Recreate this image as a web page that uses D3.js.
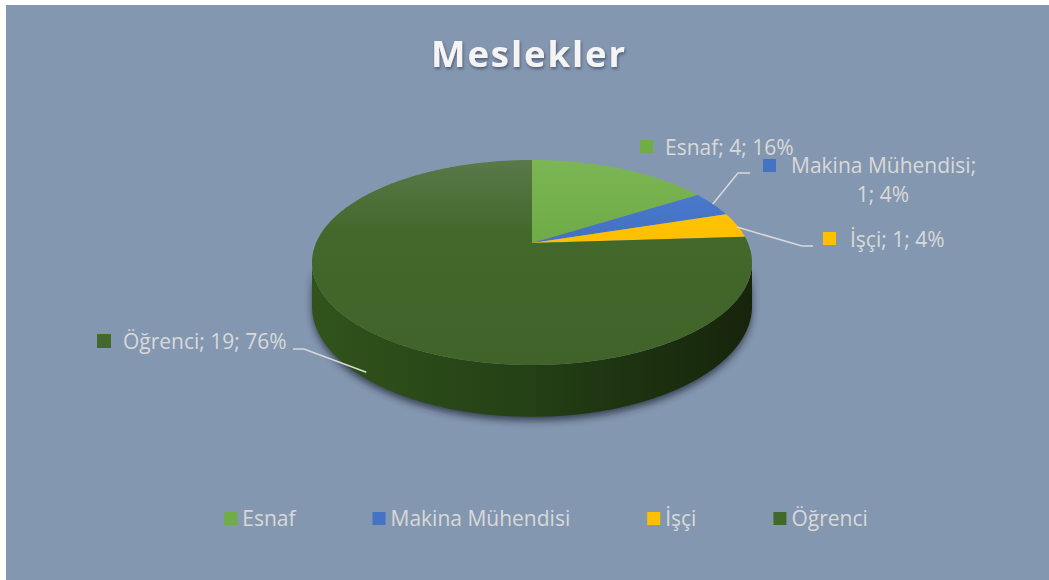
<!DOCTYPE html>
<html><head><meta charset="utf-8">
<script src="https://cdn.jsdelivr.net/npm/d3@7"></script>
<style>
html,body{margin:0;padding:0;background:#fff;}
svg{display:block;}
text{font-family:"Open Sans",sans-serif;}
</style></head>
<body>
<svg id="chart" width="1049" height="580"></svg>
<script>
const title = "Meslekler";
const categories = ["Esnaf", "Makina Mühendisi", "İşçi", "Öğrenci"];
const values = [4, 1, 1, 19];
const colors = ["#70ad47", "#4472c4", "#ffc000", "#43682b"];
const topColors = ["#7cb655", "#4f7fd0", "#ffca2a", "#5a7a4a"];

const W = 1049, H = 580;
const svg = d3.select("#chart");
const defs = svg.append("defs");

svg.append("rect").attr("x", 6).attr("y", 5).attr("width", W - 6).attr("height", H - 5).attr("fill", "#8497b0");

// title
const tf = defs.append("filter").attr("id", "tshadow").attr("x", "-20%").attr("y", "-40%").attr("width", "140%").attr("height", "180%");
tf.append("feDropShadow").attr("dx", 1).attr("dy", 2).attr("stdDeviation", 1.6).attr("flood-color", "#2a3344").attr("flood-opacity", 0.55);
svg.append("text").attr("x", 529).attr("y", 67).attr("text-anchor", "middle")
  .attr("font-size", 36.5).attr("font-weight", 700).attr("letter-spacing", 1.9)
  .attr("fill", "#f4f4f4").attr("filter", "url(#tshadow)").text(title);

// pie geometry (perspective projection of a disk)
const cx = 532, cy = 243, k = 216, m = 98.8, p = 0.19, T = 42;
const total = d3.sum(values);
const pie = d3.pie().sort(null).value(d => d).startAngle(0).endAngle(2 * Math.PI);
const arcs = pie(values);
const proj = (theta, r = 1, depth = 0) => {
  const X = r * Math.sin(theta), Z = -r * Math.cos(theta);
  const s = 1 - p * Z;
  return [cx + k * X / s, cy + (m * Z + depth) / s];
};
const sample = (a0, a1, depth) => {
  const n = Math.max(4, Math.ceil(Math.abs(a1 - a0) / 0.01));
  return d3.range(n + 1).map(i => proj(a0 + (a1 - a0) * i / n, 1, depth));
};
const line = d3.line();

// side (front visible part)
const sA = Math.acos(-p), sB = 2 * Math.PI - Math.acos(-p);
const sidePts = sample(sA, sB, 0).concat(sample(sB, sA, T));
const sidePath = line(sidePts) + "Z";

const sh = defs.append("filter").attr("id", "pshadow").attr("x", "-20%").attr("y", "-50%").attr("width", "140%").attr("height", "200%");
sh.append("feGaussianBlur").attr("stdDeviation", 3.5);
svg.append("path").attr("d", sidePath).attr("fill", "#1c2333").attr("opacity", 0.7)
  .attr("transform", "translate(0,4)").attr("filter", "url(#pshadow)");

const sg = defs.append("linearGradient").attr("id", "sideGrad").attr("gradientUnits", "userSpaceOnUse")
  .attr("x1", cx - 220).attr("x2", cx + 220).attr("y1", 0).attr("y2", 0);
sg.append("stop").attr("offset", 0).attr("stop-color", "#31531b");
sg.append("stop").attr("offset", 0.45).attr("stop-color", "#254216");
sg.append("stop").attr("offset", 1).attr("stop-color", "#16240b");
svg.append("path").attr("d", sidePath).attr("fill", "url(#sideGrad)");

// top faces
arcs.forEach((a, i) => {
  const g = defs.append("linearGradient").attr("id", "tg" + i).attr("gradientUnits", "userSpaceOnUse")
    .attr("x1", 0).attr("x2", 0).attr("y1", cy - 85).attr("y2", cy + 125);
  g.append("stop").attr("offset", 0).attr("stop-color", topColors[i]);
  g.append("stop").attr("offset", 0.35).attr("stop-color", colors[i]);
  g.append("stop").attr("offset", 1).attr("stop-color", d3.color(colors[i]).darker(0.15));
  const pts = [[cx, cy]].concat(sample(a.startAngle, a.endAngle, 0));
  svg.append("path").attr("d", line(pts) + "Z").attr("fill", "url(#tg" + i + ")");
});

// data labels
const labelColor = "#d9d9d9";
const fs = 21;
const pct = v => Math.round(v / total * 100) + "%";
const labels = svg.append("g").attr("font-size", fs).attr("fill", labelColor);
const mid = a => (a.startAngle + a.endAngle) / 2;

function leader(pts) {
  svg.append("path").attr("d", line(pts)).attr("fill", "none").attr("stroke", labelColor).attr("stroke-width", 1.5);
}
// Esnaf
labels.append("rect").attr("x", 640).attr("y", 140).attr("width", 13).attr("height", 13).attr("fill", colors[0]);
labels.append("text").attr("x", 665).attr("y", 155).text(`${categories[0]}; ${values[0]}; ${pct(values[0])}`);
// Makina Mühendisi
labels.append("rect").attr("x", 763).attr("y", 159).attr("width", 13).attr("height", 13).attr("fill", colors[1]);
labels.append("text").attr("x", 791).attr("y", 173).text(`${categories[1]};`);
labels.append("text").attr("x", 883).attr("y", 202).attr("text-anchor", "middle").text(`${values[1]}; ${pct(values[1])}`);
leader([proj(mid(arcs[1]), 1, 0), [738, 173], [750, 173]]);
// İşçi
labels.append("rect").attr("x", 823).attr("y", 232).attr("width", 13).attr("height", 13).attr("fill", colors[2]);
labels.append("text").attr("x", 850).attr("y", 247).text(`${categories[2]}; ${values[2]}; ${pct(values[2])}`);
leader([proj(mid(arcs[2]), 1, 2), [802, 246], [813, 246]]);
// Öğrenci
labels.append("rect").attr("x", 97).attr("y", 334).attr("width", 14).attr("height", 14).attr("fill", colors[3]);
labels.append("text").attr("x", 123).attr("y", 349).text(`${categories[3]}; ${values[3]}; ${pct(values[3])}`);
leader([[293, 349], [304, 349], proj(mid(arcs[3]), 0.97, T)]);

// legend
const lg = svg.append("g").attr("font-size", fs).attr("fill", labelColor);
let x = 0;
categories.forEach((c, i) => {
  const g = lg.append("g");
  g.append("rect").attr("x", 0).attr("y", 512).attr("width", 13).attr("height", 13).attr("fill", colors[i]);
  const t = g.append("text").attr("x", 18).attr("y", 526).text(c);
  const w = 18 + t.node().getComputedTextLength();
  g.attr("transform", `translate(${x},0)`);
  x += w + 77;
});
const totalW = x - 77;
lg.attr("transform", `translate(${546 - totalW / 2},0)`);
</script>
</body></html>
